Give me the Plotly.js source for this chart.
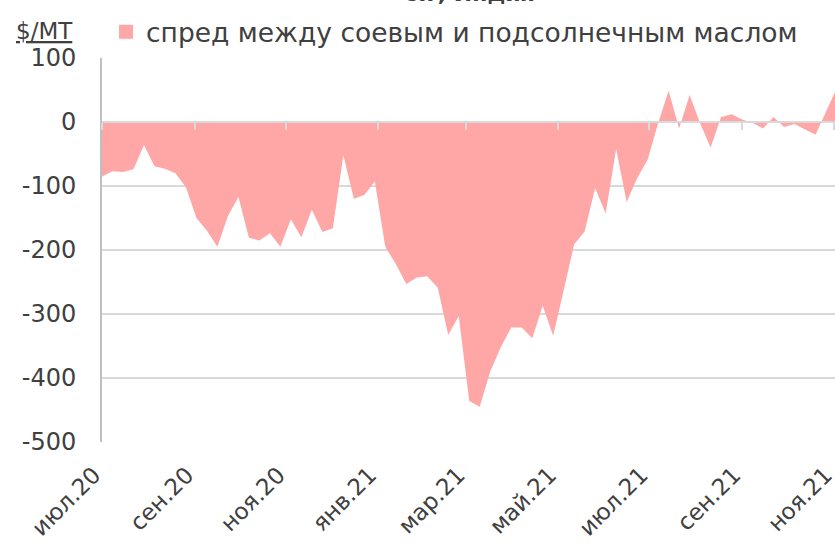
<!DOCTYPE html>
<html>
<head>
<meta charset="utf-8">
<script src="https://cdn.plot.ly/plotly-3.0.1.min.js"></script>
<style>html,body{margin:0;padding:0;background:#fff;}#chart{width:835px;height:543px;}</style>
</head>
<body>
<div id="chart"></div>
<script>
var dates = ["2020-07-01","2020-07-08","2020-07-15","2020-07-22","2020-07-29","2020-08-05","2020-08-12","2020-08-19","2020-08-26","2020-09-02",
"2020-09-09","2020-09-16","2020-09-23","2020-09-30","2020-10-07","2020-10-14","2020-10-21","2020-10-28","2020-11-04","2020-11-11",
"2020-11-18","2020-11-25","2020-12-02","2020-12-09","2020-12-16","2020-12-23","2020-12-30","2021-01-06","2021-01-13","2021-01-20",
"2021-01-27","2021-02-03","2021-02-10","2021-02-17","2021-02-24","2021-03-03","2021-03-10","2021-03-17","2021-03-24","2021-03-31",
"2021-04-07","2021-04-14","2021-04-21","2021-04-28","2021-05-05","2021-05-12","2021-05-19","2021-05-26","2021-06-02","2021-06-09",
"2021-06-16","2021-06-23","2021-06-30","2021-07-07","2021-07-14","2021-07-21","2021-07-28","2021-08-04","2021-08-11","2021-08-18",
"2021-08-25","2021-09-01","2021-09-08","2021-09-15","2021-09-22","2021-09-29","2021-10-06","2021-10-13","2021-10-20","2021-11-02"];
var spread = [-85,-77,-78,-74,-36,-69,-73,-80,-102,-150,
-170,-195,-147,-117,-181,-185,-174,-195,-152,-180,
-137,-172,-166,-52,-120,-114,-93,-195,-222,-253,
-243,-241,-259,-333,-303,-436,-445,-390,-352,-321,
-321,-338,-287,-334,-263,-191,-171,-103,-143,-42,
-125,-88,-59,-2,49,-10,42,-2,-40,8,
12,4,-1,-10,8,-8,-3,-11,-20,47];
var tickDates = ["2020-07-01","2020-09-01","2020-11-01","2021-01-01","2021-03-01","2021-05-01","2021-07-01","2021-09-01","2021-11-01"];
var tickLabels = ["июл.20","сен.20","ноя.20","янв.21","мар.21","май.21","июл.21","сен.21","ноя.21"];
var yTickVals = [100, 0, -100, -200, -300, -400, -500];
var yTickLabels = ["100", "0", "-100", "-200", "-300", "-400", "-500"];
var seriesName = "спред между соевым и подсолнечным маслом";
var titleText = "CIF, Индия";
var unitText = "$/МТ";

var FONT = "DejaVu Sans, sans-serif";
var TXT = "#404040";
var FILL = "#FFA6A6";
var xRange = ["2020-07-01", "2021-11-02"];

var traces = [
  {
    x: dates, y: spread, type: "scatter", mode: "lines",
    fill: "tozeroy", fillcolor: FILL,
    line: {width: 0, color: FILL},
    name: seriesName, showlegend: false, hoverinfo: "x+y"
  },
  {
    x: [null], y: [null], type: "scatter", mode: "markers",
    marker: {symbol: "square", size: 14, color: FILL},
    name: seriesName, showlegend: true, hoverinfo: "skip"
  },
  {
    x: tickDates, y: tickDates.map(function(){return null;}), xaxis: "x2", yaxis: "y",
    type: "scatter", mode: "lines", showlegend: false, hoverinfo: "skip"
  }
];

var layout = {
  width: 835, height: 543,
  margin: {l: 102, r: 0, t: 58, b: 101},
  paper_bgcolor: "#ffffff", plot_bgcolor: "#ffffff",
  font: {family: FONT, color: TXT, size: 22},
  showlegend: true,
  legend: {orientation: "h", x: 0.0055, xanchor: "left", y: 1.005, yanchor: "bottom",
           font: {family: FONT, size: 26.5, color: TXT}, bgcolor: "rgba(0,0,0,0)"},
  xaxis: {
    type: "date", range: xRange, tickvals: tickDates, ticktext: tickLabels,
    tickangle: -45, showgrid: false, zeroline: false, showline: false, ticks: "",
    ticklabelstandoff: 14, ticklabelshift: -8, ticklabeloverflow: "allow",
    tickfont: {family: FONT, size: 23, color: TXT}, fixedrange: true
  },
  xaxis2: {
    type: "date", range: xRange, overlaying: "x", anchor: "free", position: 500/600,
    tickvals: tickDates, showticklabels: false, ticks: "outside", ticklen: 7, tickwidth: 2,
    tickcolor: "#D9D9D9", showline: true, linecolor: "#D9D9D9", linewidth: 2,
    showgrid: false, zeroline: false, fixedrange: true
  },
  yaxis: {
    range: [-500, 100], tickvals: yTickVals, ticktext: yTickLabels,
    showgrid: true, gridcolor: "#D9D9D9", gridwidth: 2,
    zeroline: false, showline: true, linecolor: "#BFBFBF", linewidth: 2,
    ticks: "", ticklabelstandoff: 19,
    tickfont: {family: FONT, size: 24, color: TXT}, fixedrange: true
  },
  annotations: [
    {text: "<span style='text-decoration:underline'>" + unitText + "</span>", xref: "paper", yref: "paper",
     x: (75 - 102) / 733, xanchor: "right", y: 1 + 12/384, yanchor: "bottom", showarrow: false,
     font: {family: FONT, size: 23, color: TXT}},
    {text: "<b>" + titleText + "</b>", xref: "paper", yref: "paper",
     x: 0.5, xanchor: "center", y: 1 + 50/384, yanchor: "bottom", showarrow: false,
     font: {family: FONT, size: 22, color: TXT}}
  ]
};

Plotly.newPlot("chart", traces, layout, {displayModeBar: false, staticPlot: true});
</script>
</body>
</html>
